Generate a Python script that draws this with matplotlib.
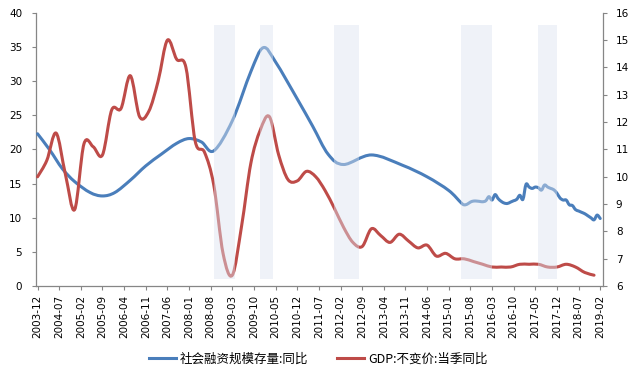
import numpy as np
import matplotlib
matplotlib.use("Agg")
import matplotlib.pyplot as plt
from matplotlib.path import Path
from matplotlib.patches import PathPatch
from matplotlib.lines import Line2D
from matplotlib.font_manager import FontProperties

# --- data (months counted from 2003-12) ---
tick_labels = ["2003-12", "2004-07", "2005-02", "2005-09", "2006-04", "2006-11",
               "2007-06", "2008-01", "2008-08", "2009-03", "2009-10", "2010-05",
               "2010-12", "2011-07", "2012-02", "2012-09", "2013-04", "2013-11",
               "2014-06", "2015-01", "2015-08", "2016-03", "2016-10", "2017-05",
               "2017-12", "2018-07", "2019-02"]

# social financing stock yoy (left axis): sparse points, then monthly from 2015-05
tsf_dates = ["2003-12", "2004-04", "2004-08", "2004-12", "2005-05", "2005-09",
             "2006-01", "2006-06", "2006-11", "2007-04", "2007-09", "2008-01",
             "2008-05", "2008-09", "2009-03", "2009-09", "2010-01", "2010-05",
             "2010-12", "2011-05", "2011-10", "2012-03", "2012-12", "2013-10",
             "2014-06", "2015-01"]
tsf_sparse = [22.3, 19.9, 17.2, 15.3, 13.7, 13.2,
              13.7, 15.5, 17.6, 19.3, 20.9, 21.6,
              21.1, 19.8, 24.2, 31.4, 34.9, 32.8,
              27.4, 23.4, 19.3, 17.8, 19.2, 17.7,
              16.0, 14.0]
tsf_monthly_start = "2015-05"
tsf_monthly = [12.2, 11.9, 12.0, 12.3, 12.45, 12.45, 12.4, 12.35, 12.5, 13.1,
               12.6, 13.4, 12.8, 12.4, 12.15, 12.1, 12.3, 12.5, 12.7, 13.3,
               12.7, 14.9, 14.5, 14.3, 14.5, 14.4, 14.05, 14.8, 14.5, 14.3,
               14.1, 13.6, 12.9, 12.6, 12.6, 11.9, 11.8, 11.2, 11.0, 10.8,
               10.6, 10.3, 10.0, 9.7, 10.4, 9.9]

# GDP constant price yoy (right axis), quarterly from 2003-12
gdp_start = "2003-12"
gdp = [10.0,
       10.6, 11.6, 10.1, 8.8,
       11.2, 11.1, 10.8, 12.45,
       12.5, 13.7, 12.2, 12.4,
       13.5, 15.0, 14.3, 14.0,
       11.3, 10.9, 9.7, 7.2,
       6.4, 8.2, 10.5, 11.7,
       12.2, 10.8, 9.9, 9.85,
       10.2, 10.0, 9.5, 8.85,
       8.15, 7.6, 7.45, 8.1,
       7.85, 7.6, 7.9, 7.65,
       7.4, 7.5, 7.1, 7.2,
       7.0, 7.0, 6.9, 6.8,
       6.7, 6.7, 6.7, 6.8,
       6.8, 6.8, 6.7, 6.7,
       6.8, 6.7, 6.5, 6.4]

# shaded periods
band_start = ["2008-09", "2009-12", "2011-12", "2015-05", "2017-06"]
band_end = ["2009-04", "2010-04", "2012-08", "2016-03", "2017-12"]


def month_idx(s):
    y, m = s.split("-")
    return (int(y) - 2003) * 12 + int(m) - 12


def smooth_path(x, y):
    # Excel-like smoothed line: cubic Bezier through the points
    p = np.column_stack([x, y]).astype(float)
    n = len(p)
    verts = [p[0]]
    codes = [Path.MOVETO]
    for i in range(n - 1):
        p0 = p[i - 1] if i > 0 else p[i]
        p3 = p[i + 2] if i + 2 < n else p[i + 1]
        c1 = p[i] + (p[i + 1] - p0) / 6.0
        c2 = p[i + 1] - (p3 - p[i]) / 6.0
        verts += [c1, c2, p[i + 1]]
        codes += [Path.CURVE4] * 3
    return Path(verts, codes)


tsf_x = [month_idx(d) for d in tsf_dates] + \
    list(month_idx(tsf_monthly_start) + np.arange(len(tsf_monthly)))
tsf_y = tsf_sparse + tsf_monthly
gdp_x = month_idx(gdp_start) + 3 * np.arange(len(gdp))

blue = "#4A7EBB"
red = "#BE4B48"
grey = "#868686"

fig = plt.figure(figsize=(6.36, 3.77), dpi=100)
ax = fig.add_axes([0.0566, 0.241, 0.892, 0.725])
ax2 = ax.twinx()

ax.add_patch(PathPatch(smooth_path(tsf_x, tsf_y), fill=False, edgecolor=blue,
                       lw=2.2, capstyle="round", joinstyle="round", zorder=3))
ax2.add_patch(PathPatch(smooth_path(gdp_x, gdp), fill=False, edgecolor=red,
                        lw=2.2, capstyle="round", joinstyle="round", zorder=3))

for s, e in zip(band_start, band_end):
    ax2.axvspan(month_idx(s), month_idx(e), ymin=0.025, ymax=0.955,
                color="#DCE4F0", alpha=0.45, lw=0, zorder=5)

ax.set_xlim(-0.5, 183)
ax.set_ylim(0, 40)
ax2.set_ylim(6, 16)
ax.set_yticks(np.arange(0, 41, 5))
ax2.set_yticks(np.arange(6, 17, 1))
ax.set_xticks([month_idx(t) for t in tick_labels])
ax.set_xticklabels(tick_labels, rotation=90)

for a in (ax, ax2):
    a.spines["top"].set_visible(False)
    for sp in a.spines.values():
        sp.set_color(grey)
        sp.set_linewidth(0.9)
ax.spines["right"].set_visible(False)
ax2.spines["left"].set_visible(False)
ax2.spines["bottom"].set_visible(False)

ax.tick_params(axis="y", direction="out", length=3, width=0.8, color=grey,
               labelsize=7.5, pad=7)
ax2.tick_params(axis="y", direction="out", length=3, width=0.8, color=grey,
                labelsize=7.5, pad=6)
ax.tick_params(axis="x", direction="out", length=3, width=0.8, color=grey,
               labelsize=7.5, pad=3)

handles = [Line2D([], [], color=blue, lw=2.2),
           Line2D([], [], color=red, lw=2.2)]
fig.legend(handles, ["社会融资规模存量:同比", "GDP:不变价:当季同比"],
           loc="center", bbox_to_anchor=(0.5, 0.048), ncol=2, frameon=False,
           handlelength=2.2, handletextpad=0.3, columnspacing=2.3,
           prop=FontProperties(family=["Noto Sans CJK SC", "DejaVu Sans"], size=9))

fig.savefig("out.png", dpi=100)
